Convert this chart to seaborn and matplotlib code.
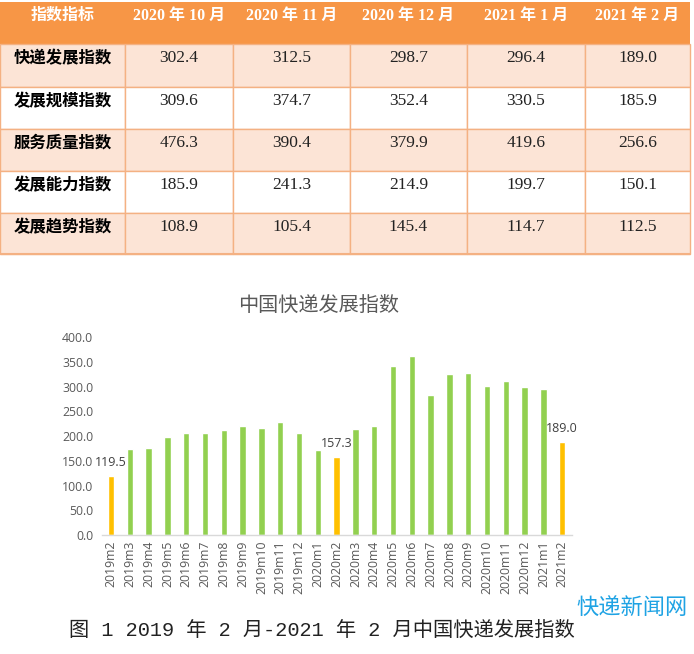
import matplotlib
matplotlib.use("Agg")
import pandas as pd
import matplotlib.pyplot as plt
import seaborn as sns
from matplotlib.patches import Rectangle


# table data
table_header = ["指数指标", "2020 年 10 月", "2020 年 11 月", "2020 年 12 月", "2021 年 1 月", "2021 年 2 月"]
row_names = ["快递发展指数", "发展规模指数", "服务质量指数", "发展能力指数", "发展趋势指数"]
oct_2020 = [302.4, 309.6, 476.3, 185.9, 108.9]
nov_2020 = [312.5, 374.7, 390.4, 241.3, 105.4]
dec_2020 = [298.7, 352.4, 379.9, 214.9, 145.4]
jan_2021 = [296.4, 330.5, 419.6, 199.7, 114.7]
feb_2021 = [189.0, 185.9, 256.6, 150.1, 112.5]

# chart data
months = ["2019m2", "2019m3", "2019m4", "2019m5", "2019m6", "2019m7", "2019m8",
          "2019m9", "2019m10", "2019m11", "2019m12", "2020m1", "2020m2", "2020m3",
          "2020m4", "2020m5", "2020m6", "2020m7", "2020m8", "2020m9", "2020m10",
          "2020m11", "2020m12", "2021m1", "2021m2"]
index_values = [119.5, 174.0, 176.0, 198.5, 206.5, 206.5, 212.5, 220.5, 216.5,
                228.5, 206.5, 172.0, 157.3, 214.5, 220.5, 342.0, 362.0, 283.0,
                326.0, 328.0, 302.4, 312.5, 298.7, 296.4, 189.0]
feb_months = ["2019m2", "2020m2", "2021m2"]

GREEN = "#92D050"
GOLD = "#FFC000"
GREY = "#595959"
CJK = ["Noto Sans CJK SC", "DejaVu Sans"]

sns.set_theme(style="white")
plt.rcParams["font.family"] = ["Open Sans", "Noto Sans CJK SC", "DejaVu Sans"]

fig = plt.figure(figsize=(6.94, 6.54), dpi=100)

# ---- table drawn in pixel coordinates ----
tab = fig.add_axes([0, 0, 1, 1])
tab.set_xlim(0, 694)
tab.set_ylim(654, 0)
tab.axis("off")

col_edges = [0, 125, 233, 350, 467, 585, 690]
row_edges = [2, 44, 87, 129, 171, 213, 254]
columns = [oct_2020, nov_2020, dec_2020, jan_2021, feb_2021]

tab.add_patch(Rectangle((0, row_edges[0]), 690, row_edges[1] - row_edges[0],
                        facecolor="#F79646", edgecolor="none"))
for j, name in enumerate(table_header):
    cx = (col_edges[j] + col_edges[j + 1]) / 2
    tab.text(cx, 16, name, ha="center", va="center", color="white",
             fontsize=11.5, fontweight="bold",
             family=["Liberation Serif", "Noto Sans CJK SC"])

for i, rname in enumerate(row_names):
    top, bot = row_edges[i + 1], row_edges[i + 2]
    face = "#FCE4D6" if i % 2 == 0 else "white"
    for j in range(6):
        tab.add_patch(Rectangle((col_edges[j], top), col_edges[j + 1] - col_edges[j],
                                bot - top, facecolor=face, edgecolor="#F4B183", lw=1))
    tab.text(14, top + 14, rname, ha="left", va="center", color="black",
             fontsize=11.8, fontweight="bold", family=CJK)
    for j, col in enumerate(columns):
        cx = (col_edges[j + 1] + col_edges[j + 2]) / 2
        tab.text(cx, top + 14, f"{col[i]:.1f}", ha="center", va="center",
                 color="#222222", fontsize=12.5, family="Liberation Serif")
tab.plot([0, 690], [254, 254], color="#F4B183", lw=1.5)

# ---- bar chart ----
df = pd.DataFrame({"month": months, "value": index_values})
df["group"] = ["feb" if m in feb_months else "other" for m in months]

ax = fig.add_axes([101.6 / 694, (654 - 535) / 654, 470 / 694, 197.7 / 654])
sns.barplot(data=df, x="month", y="value", hue="group", hue_order=["other", "feb"],
            palette={"other": GREEN, "feb": GOLD}, dodge=False, width=0.34,
            saturation=1, legend=False, ax=ax)
ax.bar_label(ax.containers[1], fmt="%.1f", padding=5, fontsize=9, color="#404040")

ax.set_xlim(-0.5, len(months) - 0.5)
ax.set_ylim(0, 400)
ax.set_yticks(range(0, 401, 50))
ax.set_yticklabels([f"{v:.1f}" for v in range(0, 401, 50)])
ax.set_xlabel("")
ax.set_ylabel("")
ax.tick_params(axis="x", rotation=90, labelsize=8.8, colors=GREY, length=0, pad=4)
ax.tick_params(axis="y", labelsize=8.8, colors=GREY, length=0, pad=6)
for side in ["left", "right", "top"]:
    ax.spines[side].set_visible(False)
ax.spines["bottom"].set_color("#D9D9D9")
ax.spines["bottom"].set_linewidth(1)
ax.patch.set_alpha(0)

fig.text(319 / 694, 1 - 305 / 654, "中国快递发展指数", ha="center", va="center",
         fontsize=14.5, color=GREY, family=CJK)
fig.text(322 / 694, 1 - 630 / 654, "图 1 2019 年 2 月-2021 年 2 月中国快递发展指数",
         ha="center", va="center", fontsize=14.6, color="#222222",
         family=["Liberation Mono", "Noto Sans CJK SC"])
fig.text(632 / 694, 1 - 608 / 654, "快递新闻网", ha="center", va="center",
         fontsize=16, color="#1FA3E4", family=CJK)

plt.savefig("out.png", dpi=100)
